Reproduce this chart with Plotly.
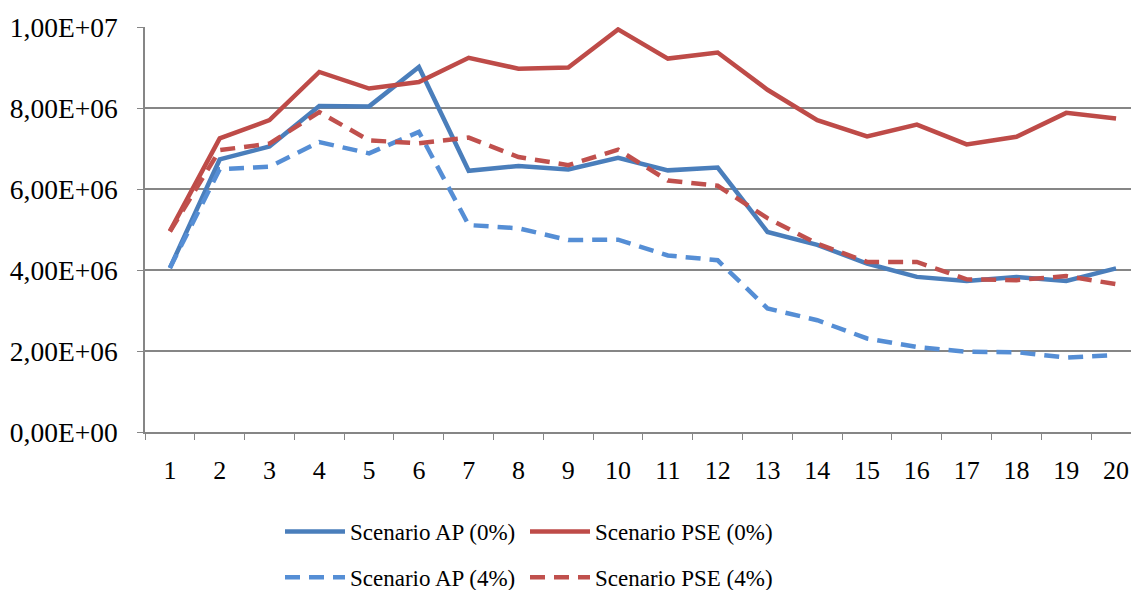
"""Scenario comparison line chart (Plotly)."""
import plotly.graph_objects as go

# years / periods
periods = [str(i) for i in range(1, 21)]

# values in millions
ap_0 = [4.05, 6.73, 7.05, 8.05, 8.04, 9.01, 6.45, 6.57, 6.48, 6.77,
        6.46, 6.53, 4.94, 4.62, 4.16, 3.83, 3.73, 3.83, 3.73, 4.04]
pse_0 = [4.96, 7.25, 7.70, 8.89, 8.48, 8.64, 9.24, 8.97, 9.00, 9.94,
         9.22, 9.37, 8.45, 7.70, 7.30, 7.59, 7.10, 7.29, 7.88, 7.74]
ap_4 = [4.05, 6.49, 6.55, 7.16, 6.88, 7.41, 5.11, 5.03, 4.74, 4.75,
        4.36, 4.24, 3.05, 2.76, 2.31, 2.10, 1.98, 1.97, 1.84, 1.90]
pse_4 = [4.95, 6.96, 7.12, 7.90, 7.20, 7.13, 7.27, 6.79, 6.59, 6.97,
         6.21, 6.08, 5.28, 4.65, 4.20, 4.20, 3.77, 3.75, 3.85, 3.65]

y_ticks = [0, 2e6, 4e6, 6e6, 8e6, 1e7]
y_tick_labels = ["0,00E+00", "2,00E+06", "4,00E+06", "6,00E+06", "8,00E+06", "1,00E+07"]

series = [
    ("Scenario AP (0%)", ap_0, "#4A7EBB", "solid", "legend"),
    ("Scenario AP (4%)", ap_4, "#558ED5", "15px,9px", "legend"),
    ("Scenario PSE (0%)", pse_0, "#BE4B48", "solid", "legend2"),
    ("Scenario PSE (4%)", pse_4, "#C0504D", "15px,9px", "legend2"),
]

fig = go.Figure()
for name, vals, color, dash, leg in series:
    fig.add_trace(go.Scatter(
        x=periods,
        y=[v * 1e6 for v in vals],
        name=name,
        mode="lines",
        line=dict(color=color, width=4.5, dash=dash),
        legend=leg,
        legendgroup=name,
    ))

W, H = 1131, 590
legend_common = dict(
    xref="container", yref="container",
    xanchor="left", yanchor="top",
    orientation="v",
    font=dict(family="Liberation Serif", size=23, color="#000000"),
    bgcolor="rgba(0,0,0,0)",
    tracegroupgap=13,
    itemwidth=60,
)

fig.update_layout(
    width=W,
    height=H,
    paper_bgcolor="white",
    plot_bgcolor="white",
    margin=dict(l=145, r=0, t=27, b=158, autoexpand=False),
    font=dict(family="Liberation Serif", color="#000000"),
    showlegend=True,
    legend=dict(x=280 / W, y=1 - 510 / H, **legend_common),
    legend2=dict(x=525 / W, y=1 - 510 / H, **legend_common),
    xaxis=dict(
        type="category",
        range=[-0.5, 19.3],
        showgrid=False,
        showline=True,
        linecolor="#868686",
        linewidth=1.5,
        ticks="outside",
        tickson="boundaries",
        ticklen=6,
        tickcolor="#868686",
        tickangle=0,
        tickfont=dict(size=26),
        ticklabelstandoff=14,
        automargin=False,
    ),
    yaxis=dict(
        range=[0, 1e7],
        tickvals=y_ticks,
        ticktext=y_tick_labels,
        showgrid=True,
        gridcolor="#868686",
        gridwidth=1.5,
        showline=True,
        linecolor="#868686",
        linewidth=1.5,
        ticks="outside",
        ticklen=6,
        tickcolor="#868686",
        tickfont=dict(size=27.5),
        ticklabelstandoff=14,
        zeroline=False,
        automargin=False,
    ),
)

# drop the default page margin so the figure fills the window exactly
fig.write_html(
    "out.html",
    config={"displayModeBar": False},
    post_script="document.body.style.margin='0';document.body.style.overflow='hidden';",
)
